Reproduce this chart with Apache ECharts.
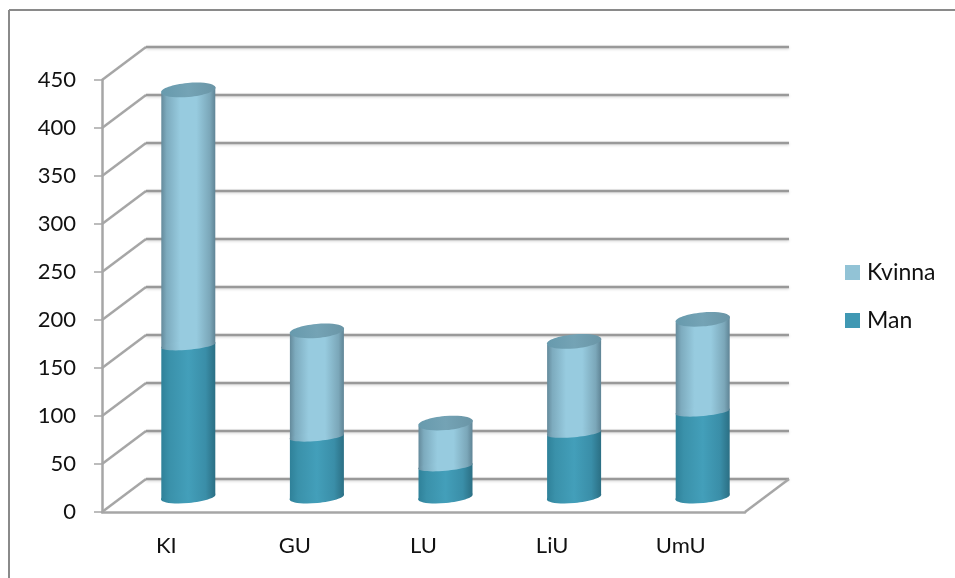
<!DOCTYPE html>
<html><head><meta charset="utf-8">
<style>html,body{margin:0;padding:0;background:#fff}#c{width:955px;height:578px}</style>
<script src="https://cdn.jsdelivr.net/npm/echarts@6/dist/echarts.min.js"></script>
</head><body><div id="c"></div>
<script>
var categories = ['KI','GU','LU','LiU','UmU'];
var man = [158,63,32,67,89];
var kvinna = [266,110,45,95,96];
var wallTicks = [0,50,100,150,200,250,300,350,400,450];

var DX = 44, DY = -33;         // depth of the pseudo 3D box
var BAR_DX = 22, BAR_DY = -15; // bars stand mid depth
var RX = 27, RY = 7, TILT = 3;

function lg(stops){
  return {type:'linear',x:0,y:0,x2:1,y2:0,colorStops:stops.map(function(s){return {offset:s[0],color:s[1]};})};
}
var kvinnaFill = lg([[0,'#648a9b'],[0.1,'#7dabbe'],[0.35,'#97cbdf'],[0.65,'#97cbdf'],[0.9,'#7ba7b9'],[1,'#5f8495']]);
var manFill = lg([[0,'#2f8199'],[0.15,'#3a91aa'],[0.5,'#439fba'],[0.82,'#3a8ea8'],[1,'#2b6f84']]);
var capFill = lg([[0,'#679aad'],[0.5,'#74a3b5'],[1,'#6a95a6']]);

function segment(api, base, val, fill, withTop, baseRy){
  var cx = api.coord([api.value(0),0])[0] + BAR_DX;
  var y0 = api.coord([api.value(0),base])[1] + BAR_DY;
  var y1 = api.coord([api.value(0),base+val])[1] + BAR_DY;
  var kids = [
    {type:'polygon',shape:{points:[[cx-RX,y1+TILT],[cx+RX,y1-TILT],[cx+RX,y0-TILT],[cx-RX,y0+TILT]]},style:{fill:fill}},
    {type:'ellipse',shape:{cx:cx,cy:y0,rx:RX+0.3,ry:baseRy},rotation:0.09,originX:cx,originY:y0,style:{fill:fill}}
  ];
  if(withTop){
    kids.push({type:'ellipse',shape:{cx:cx,cy:y1,rx:RX+0.3,ry:RY},rotation:0.09,originX:cx,originY:y1,style:{fill:capFill}});
  }
  return {type:'group',children:kids};
}

var chart = echarts.init(document.getElementById('c'),null,{renderer:'canvas'});
chart.setOption({
  animation:false,
  backgroundColor:'#fff',
  textStyle:{fontFamily:'Lato'},
  graphic:[
    {type:'line',shape:{x1:9,y1:10,x2:955,y2:10},style:{stroke:'#8a8a8a',lineWidth:2},z:-1},
    {type:'line',shape:{x1:9,y1:10,x2:9,y2:578},style:{stroke:'#8a8a8a',lineWidth:2},z:-1}
  ],
  legend:{
    orient:'vertical',left:840,top:256,itemWidth:15,itemHeight:15,itemGap:25,icon:'rect',
    data:['Kvinna','Man'],
    textStyle:{fontFamily:'Lato',fontSize:23,color:'#111',padding:[0,0,0,2]},
    selectedMode:false
  },
  grid:{left:102,top:80,width:643,height:432},
  xAxis:{type:'category',data:categories,
    axisLine:{lineStyle:{color:'#a6a6a6',width:2.5}},
    axisTick:{length:8,lineStyle:{color:'#a6a6a6',width:1.5}},
    axisLabel:{fontFamily:'Lato',fontSize:22,color:'#111',margin:23}},
  yAxis:{type:'value',min:0,max:450,interval:50,
    splitLine:{show:false},
    axisLine:{show:true,lineStyle:{color:'#a6a6a6',width:2.5}},
    axisTick:{show:true,length:8,lineStyle:{color:'#a6a6a6',width:1.5}},
    axisLabel:{fontFamily:'Lato',fontSize:22,color:'#111',margin:26}},
  series:[
    {type:'custom',name:'wall',silent:true,z:1,
     data:wallTicks.map(function(t){return [0,t];}),encode:{x:0,y:1},
     renderItem:function(p,api){
       var band = api.size([1,0])[0];
       var c = api.coord([0,api.value(1)]);
       var x0 = c[0]-band/2, x1 = x0+band*5, y = c[1];
       var kids = [
         {type:'line',shape:{x1:x0,y1:y,x2:x0+DX,y2:y+DY},style:{stroke:'#a6a6a6',lineWidth:2.5}},
         {type:'line',shape:{x1:x0+DX,y1:y+DY,x2:x1+DX,y2:y+DY},style:{stroke:'#999999',lineWidth:2.5,shadowBlur:3,shadowColor:'rgba(0,0,0,0.18)',shadowOffsetY:1}}
       ];
       if(api.value(1)===0){
         kids.push({type:'line',shape:{x1:x1,y1:y,x2:x1+DX,y2:y+DY},style:{stroke:'#a6a6a6',lineWidth:2.5}});
       }
       return {type:'group',children:kids};
     }},
    {type:'custom',name:'Man',z:3,itemStyle:{color:'#4098b3'},
     data:man.map(function(v,i){return [i,v];}),encode:{x:0,y:1},
     renderItem:function(p,api){return segment(api,0,api.value(1),manFill,false,6);}},
    {type:'custom',name:'Kvinna',z:4,itemStyle:{color:'#92c3d6'},
     data:kvinna.map(function(v,i){return [i,v,man[i]];}),encode:{x:0,y:1},
     renderItem:function(p,api){return segment(api,api.value(2),api.value(1),kvinnaFill,true,4.5);}}
  ]
});
</script></body></html>
